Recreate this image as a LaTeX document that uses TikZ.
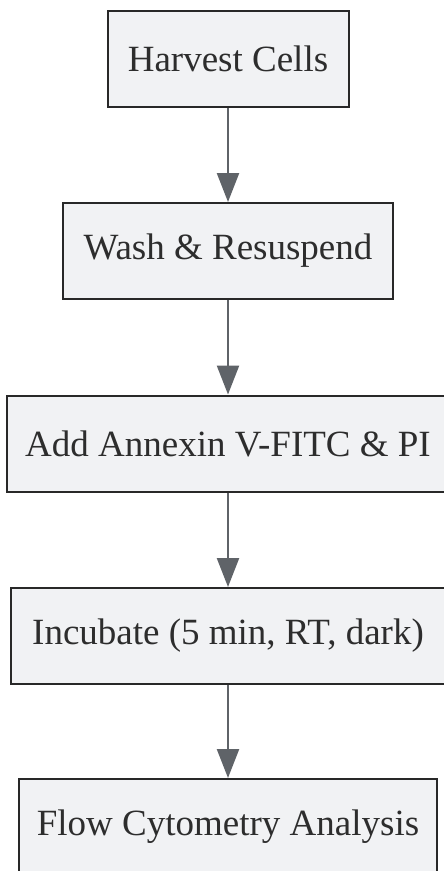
\documentclass[tikz,border=0pt]{standalone}
\usepackage{fontspec}
\setmainfont{Liberation Serif}
\usepackage{tikz}
\usetikzlibrary{positioning,arrows.meta}
\definecolor{boxfill}{RGB}{241,242,244}
\definecolor{boxline}{RGB}{40,40,40}
\definecolor{flowgray}{RGB}{95,99,104}
\definecolor{textdark}{RGB}{45,45,45}

\tikzset{
  stepbox/.style={draw=boxline, fill=boxfill, line width=2pt, minimum height=96pt,
    inner sep=0pt, text=textdark, font=\fontsize{37}{43}\selectfont},
  flow/.style={draw=flowgray, line width=2.4pt, -{Triangle[length=29pt,width=22pt]}}
}

\begin{document}
\begin{tikzpicture}[x=1pt,y=1pt]
\useasboundingbox (0,0) rectangle (444,-871);
% Protocol steps, top to bottom
\node[stepbox, minimum width=241pt] (harvest) at (228,-59) {Harvest Cells};
\node[stepbox, minimum width=330pt] (wash) at (228,-251) {Wash \& Resuspend};
\node[stepbox, minimum width=442pt] (stain) at (228,-443.5) {Add Annexin V-FITC \& PI};
\node[stepbox, minimum width=434pt] (incubate) at (228,-636) {Incubate (5 min, RT, dark)};
\node[stepbox, minimum width=418pt] (analysis) at (228,-827) {Flow Cytometry Analysis};

% Arrows between steps
\draw[flow] (harvest) -- (wash);
\draw[flow] (wash) -- (stain);
\draw[flow] (stain) -- (incubate);
\draw[flow] (incubate) -- (analysis);
\end{tikzpicture}
\end{document}
